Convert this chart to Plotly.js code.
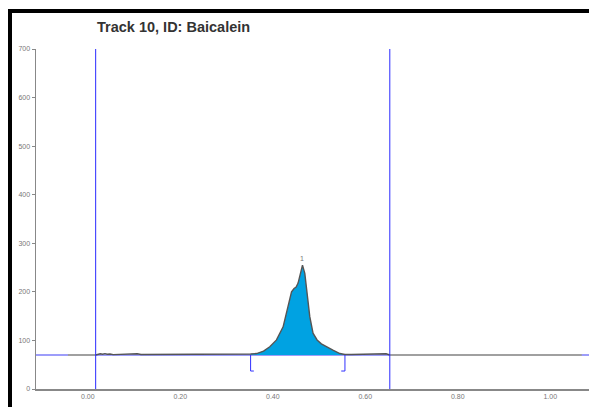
<!DOCTYPE html>
<html><head><meta charset="utf-8">
<script src="https://cdn.plot.ly/plotly-3.0.1.min.js"></script>
<style>html,body{margin:0;padding:0;background:#fff}#chart{width:589px;height:407px}</style>
</head><body><div id="chart"></div>
<script>
// Densitogram signal (Rf, AU)
const rf = [0.017,0.022,0.027,0.032,0.037,0.042,0.048,0.055,0.07,0.09,0.1,0.107,0.115,0.13,0.145,0.155,0.17,0.19,0.21,0.23,0.25,0.27,0.29,0.31,0.33,0.345,0.352,0.365,0.38,0.3935,0.408,0.4223,0.433,0.4405,0.446,0.4505,0.4547,0.46,0.4642,0.4692,0.4742,0.48,0.487,0.4958,0.505,0.516,0.53,0.545,0.556,0.57,0.59,0.61,0.625,0.635,0.64,0.645,0.653];
const au = [70,71.5,72.5,71.5,72.8,71.5,72,70.8,71,70.8,72,72.5,71,71,70.8,71.5,71,71.2,70.8,71.2,70.8,71.2,70.8,71,71,71.5,72,73,78,87,101,128,169,200,207,210,218,238,255,238,197,149,115,101,93,87,80,73,71,71,71,71,71.2,72.5,71.5,72.5,70];
const baselineLevel = 70;
const trackStart = 0.017, trackEnd = 0.653;
const peakStart = 0.352, peakEnd = 0.556;
const peakMaxRf = 0.4642, peakMaxAu = 255, peakLabel = "1";
const outsideRf = [-0.043, 1.068];
const bracketLow = 37;
const xTicks = [0, 0.2, 0.4, 0.6, 0.8, 1.0];
const yTicks = [0,100,200,300,400,500,600,700];

const fx = [], fy = [];
rf.forEach((x,i)=>{ if(x>=peakStart && x<=peakEnd){ fx.push(x); fy.push(au[i]); } });
const polyX = fx.concat([peakEnd, peakStart]);
const polyY = fy.concat([baselineLevel, baselineLevel]);

const traces = [
  {x:[-0.2,1.2], y:[baselineLevel,baselineLevel], mode:'lines', line:{color:'#9d9dfa', width:2}, hoverinfo:'skip'},
  {x:[outsideRf[0], trackStart, null, trackEnd, outsideRf[1]], y:[baselineLevel,baselineLevel,null,baselineLevel,baselineLevel], mode:'lines', line:{color:'#a0a0a0', width:2}, hoverinfo:'skip'},
  {x:polyX, y:polyY, mode:'none', fill:'toself', fillcolor:'#00a2e2', hoverinfo:'skip'},
  {x:rf, y:au, mode:'lines', line:{color:'#555', width:1.4}, hoverinfo:'skip'},
  {x:[peakStart, peakStart, peakStart+0.007], y:[baselineLevel, bracketLow, bracketLow], mode:'lines', line:{color:'#3030ff', width:1}},
  {x:[peakEnd, peakEnd, peakEnd-0.008], y:[baselineLevel, bracketLow, bracketLow], mode:'lines', line:{color:'#3030ff', width:1}}
];
const bx = (px)=>(px-36)/553, by=(py)=>(389-py)/340;
const layout = {
  width:589, height:407, showlegend:false,
  margin:{l:36, r:0, t:49, b:18},
  paper_bgcolor:'#fff', plot_bgcolor:'#fff',
  title:{text:'<b>Track 10, ID: Baicalein</b>', font:{family:'Liberation Sans, Arial', size:14.5, color:'#333'}, x:(97-36)/553, xref:'paper', xanchor:'left', y:1-27/407, yref:'container', yanchor:'middle'},
  xaxis:{range:[-0.112,1.0837], tickvals:xTicks, tickformat:'.2f', showgrid:false, zeroline:false, showline:true, linecolor:'#888', linewidth:2, ticks:'', tickfont:{family:'Liberation Sans, Arial', size:7, color:'#777'}, fixedrange:true},
  yaxis:{range:[0,700], tickvals:yTicks, showgrid:false, zeroline:false, showline:true, linecolor:'#888', linewidth:1.5, ticks:'outside', ticklen:3, tickcolor:'#888', tickwidth:1, tickfont:{family:'Liberation Sans, Arial', size:7, color:'#777'}, fixedrange:true},
  shapes:[
    {type:'line', xref:'x', yref:'paper', x0:trackStart, x1:trackStart, y0:0, y1:1, line:{color:'#2a2aff', width:1}},
    {type:'line', xref:'x', yref:'paper', x0:trackEnd, x1:trackEnd, y0:0, y1:1, line:{color:'#2a2aff', width:1}},
    {type:'line', xref:'paper', yref:'paper', x0:bx(8), x1:bx(589), y0:by(11), y1:by(11), line:{color:'#000', width:4}},
    {type:'line', xref:'paper', yref:'paper', x0:bx(10), x1:bx(10), y0:by(9), y1:by(407), line:{color:'#000', width:4}}
  ],
  annotations:[
    {x:peakMaxRf, y:peakMaxAu, text:peakLabel, showarrow:false, yanchor:'bottom', yshift:1, font:{family:'Liberation Sans, Arial', size:7, color:'#777'}}
  ]
};
Plotly.newPlot('chart', traces, layout, {displayModeBar:false, staticPlot:true});
</script></body></html>
